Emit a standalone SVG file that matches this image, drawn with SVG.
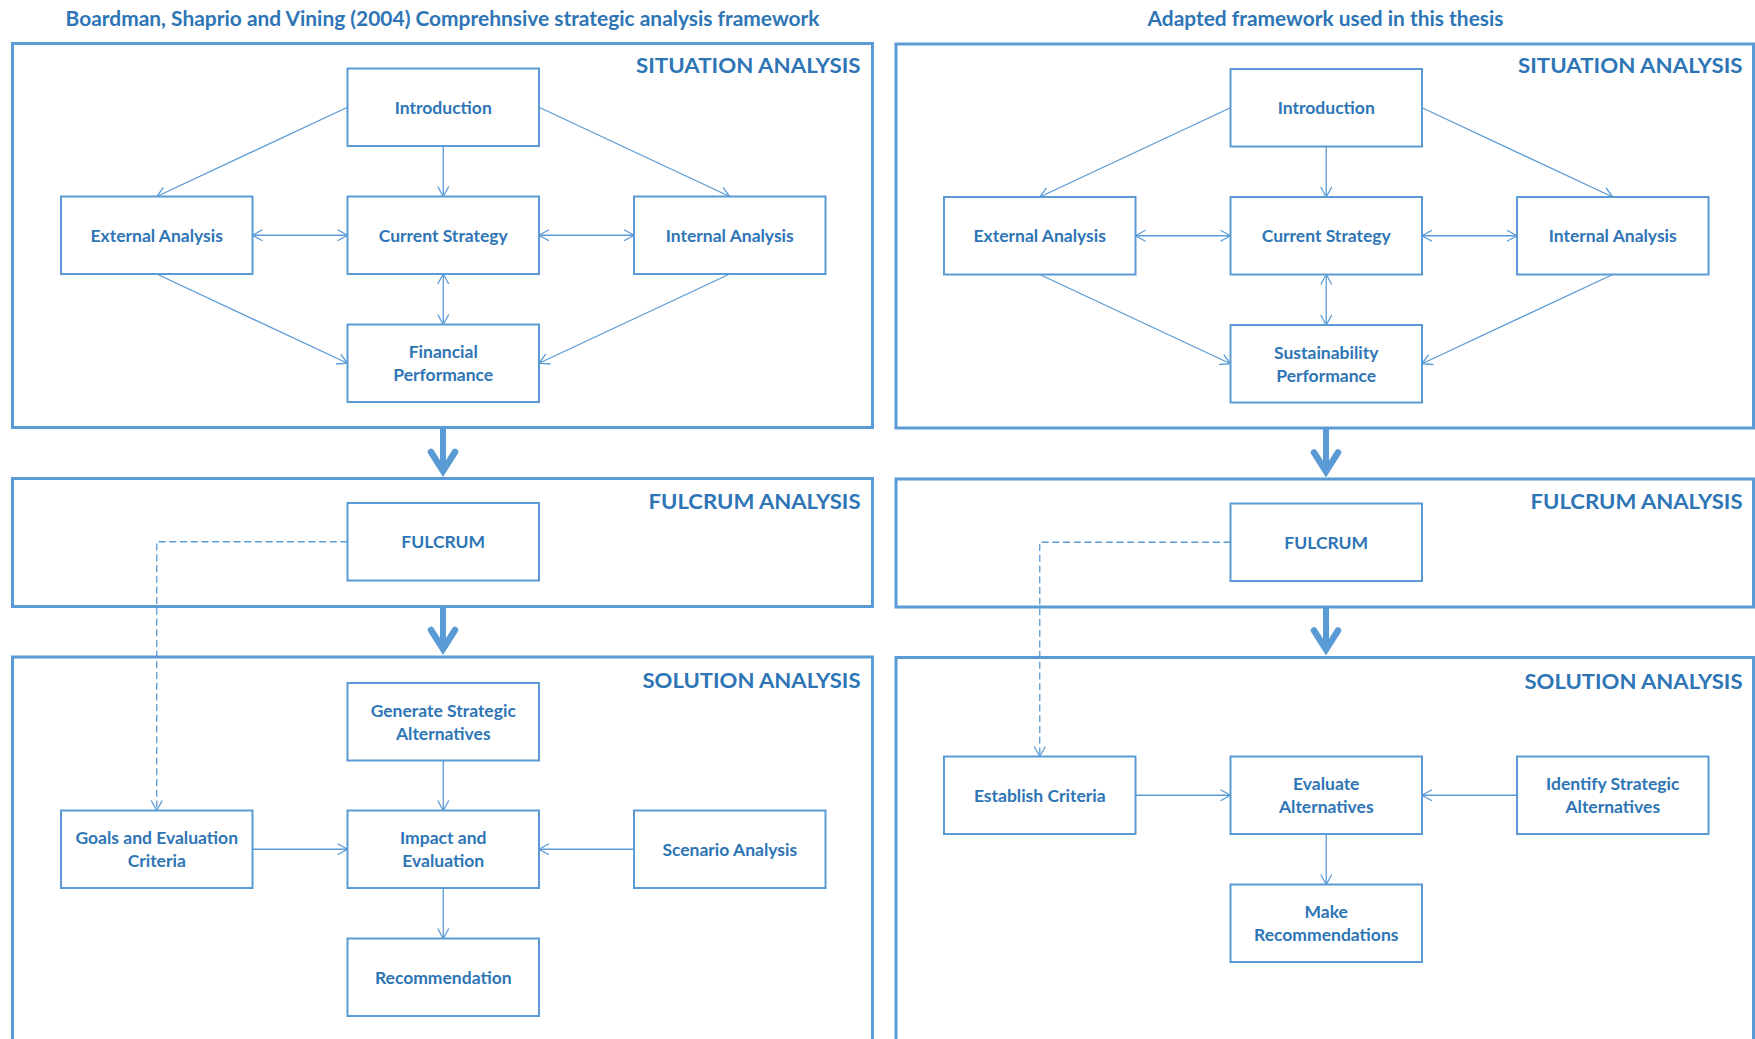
<svg xmlns="http://www.w3.org/2000/svg" width="1755" height="1039" viewBox="0 0 1755 1039">
  <style>
    .frame { fill: none; stroke: #5B9BD5; stroke-width: 3; }
    .node rect { fill: #FFFFFF; stroke: #5B9BD5; stroke-width: 2; }
    .txt { font-family: Lato, "Liberation Sans", sans-serif; font-weight: 700; fill: #2E75B6; }
    .lbl { font-size: 17.5px; text-anchor: middle; }
    .sec { font-size: 21px; text-anchor: end; }
    .title { font-size: 20px; text-anchor: middle; }
    .conn { fill: none; stroke: #5B9BD5; stroke-width: 1.3; }
    .one { marker-end: url(#tip); }
    .two { marker-start: url(#tip); marker-end: url(#tip); }
    .dash { stroke-dasharray: 7 3.7; }
    .flow { fill: none; stroke: #5B9BD5; stroke-width: 6; marker-end: url(#bigTip); }
  </style>
  <defs>
    <marker id="tip" viewBox="-12 -7 14 14" refX="0" refY="0" markerWidth="14" markerHeight="14" markerUnits="userSpaceOnUse" orient="auto-start-reverse">
      <path d="M-10,-5.5 L0,0 L-10,5.5" fill="none" stroke="#5B9BD5" stroke-width="1.3"/>
    </marker>
    <marker id="bigTip" viewBox="-20 -20 40 40" refX="0" refY="0" markerWidth="40" markerHeight="40" markerUnits="userSpaceOnUse" orient="auto">
      <path d="M-13.1,-12 L5.9,0 L-13.1,12" fill="none" stroke="#5B9BD5" stroke-width="6.5" stroke-linecap="round" stroke-linejoin="miter"/>
    </marker>
  </defs>

  <rect width="1755" height="1039" fill="#FFFFFF"/>

  <!-- headings -->
  <text class="txt title" x="442.5" y="25.7" textLength="754" lengthAdjust="spacingAndGlyphs">Boardman, Shaprio and Vining (2004) Comprehnsive strategic analysis framework</text>
  <text class="txt title" x="1325.5" y="25.7" textLength="356" lengthAdjust="spacingAndGlyphs">Adapted framework used in this thesis</text>

  <!-- stage frames, left column -->
  <g id="l-situation">
    <rect class="frame" x="12.5" y="43.5" width="860" height="384"/>
    <text class="txt sec" x="860.5" y="72.8" textLength="224.5" lengthAdjust="spacingAndGlyphs">SITUATION ANALYSIS</text>
  </g>
  <g id="l-fulcrum-stage">
    <rect class="frame" x="12.5" y="478.5" width="860" height="128"/>
    <text class="txt sec" x="860.5" y="508.8" textLength="212" lengthAdjust="spacingAndGlyphs">FULCRUM ANALYSIS</text>
  </g>
  <g id="l-solution">
    <rect class="frame" x="12.5" y="657" width="860" height="400"/>
    <text class="txt sec" x="860.5" y="688.3" textLength="218" lengthAdjust="spacingAndGlyphs">SOLUTION ANALYSIS</text>
  </g>

  <!-- stage frames, right column -->
  <g id="r-situation">
    <rect class="frame" x="896" y="44" width="857.5" height="384"/>
    <text class="txt sec" x="1742.5" y="73.3" textLength="224.5" lengthAdjust="spacingAndGlyphs">SITUATION ANALYSIS</text>
  </g>
  <g id="r-fulcrum-stage">
    <rect class="frame" x="896" y="479" width="857.5" height="128"/>
    <text class="txt sec" x="1742.5" y="509.3" textLength="212" lengthAdjust="spacingAndGlyphs">FULCRUM ANALYSIS</text>
  </g>
  <g id="r-solution">
    <rect class="frame" x="896" y="657.5" width="857.5" height="400"/>
    <text class="txt sec" x="1742.5" y="688.8" textLength="218" lengthAdjust="spacingAndGlyphs">SOLUTION ANALYSIS</text>
  </g>

  <!-- connectors -->
  <g id="connectors">
    <!-- left: situation -->
    <path class="conn one" d="M347.5,107.25 L156.75,196.5"/>
    <path class="conn one" d="M443.25,146 V196.5"/>
    <path class="conn one" d="M539,107.25 L729.75,196.5"/>
    <path class="conn two" d="M252.5,235.25 H347.5"/>
    <path class="conn two" d="M539,235.25 H634"/>
    <path class="conn two" d="M443.25,274 V324.5"/>
    <path class="conn one" d="M156.75,274 L347.5,363.25"/>
    <path class="conn one" d="M729.75,274 L539,363.25"/>
    <!-- left: stage flow -->
    <path class="flow" d="M443,428 V465"/>
    <path class="flow" d="M443,607 V643"/>
    <!-- left: fulcrum to solution -->
    <path class="conn one dash" d="M347.5,541.75 H156.75 V810.5"/>
    <path class="conn one" d="M443.25,760.5 V810.5"/>
    <path class="conn one" d="M252.5,849.25 H347.5"/>
    <path class="conn one" d="M634,849.25 H539"/>
    <path class="conn one" d="M443.25,888 V938.5"/>

    <!-- right: situation -->
    <path class="conn one" d="M1230.5,107.75 L1039.75,197"/>
    <path class="conn one" d="M1326.25,146.5 V197"/>
    <path class="conn one" d="M1422,107.75 L1612.75,197"/>
    <path class="conn two" d="M1135.5,235.75 H1230.5"/>
    <path class="conn two" d="M1422,235.75 H1517"/>
    <path class="conn two" d="M1326.25,274.5 V325"/>
    <path class="conn one" d="M1039.75,274.5 L1230.5,363.75"/>
    <path class="conn one" d="M1612.75,274.5 L1422,363.75"/>
    <!-- right: stage flow -->
    <path class="flow" d="M1326,428.5 V465.5"/>
    <path class="flow" d="M1326,607.5 V643.5"/>
    <!-- right: fulcrum to solution -->
    <path class="conn one dash" d="M1230.5,542.25 H1039.75 V756.5"/>
    <path class="conn one" d="M1135.5,795.25 H1230.5"/>
    <path class="conn one" d="M1517,795.25 H1422"/>
    <path class="conn one" d="M1326.25,834 V884.5"/>
  </g>

  <!-- left column nodes -->
  <g id="l-introduction" class="node">
    <rect x="347.5" y="68.5" width="191.5" height="77.5"/>
    <text class="txt lbl" x="443.25" y="113.5">Introduction</text>
  </g>
  <g id="l-external" class="node">
    <rect x="61" y="196.5" width="191.5" height="77.5"/>
    <text class="txt lbl" x="156.75" y="241.5">External Analysis</text>
  </g>
  <g id="l-current" class="node">
    <rect x="347.5" y="196.5" width="191.5" height="77.5"/>
    <text class="txt lbl" x="443.25" y="241.5">Current Strategy</text>
  </g>
  <g id="l-internal" class="node">
    <rect x="634" y="196.5" width="191.5" height="77.5"/>
    <text class="txt lbl" x="729.75" y="241.5">Internal Analysis</text>
  </g>
  <g id="l-financial" class="node">
    <rect x="347.5" y="324.5" width="191.5" height="77.5"/>
    <text class="txt lbl"><tspan x="443.25" y="358.3">Financial</tspan><tspan x="443.25" y="381">Performance</tspan></text>
  </g>
  <g id="l-fulcrum" class="node">
    <rect x="347.5" y="503" width="191.5" height="77.5"/>
    <text class="txt lbl" x="443.25" y="548">FULCRUM</text>
  </g>
  <g id="l-generate" class="node">
    <rect x="347.5" y="683" width="191.5" height="77.5"/>
    <text class="txt lbl"><tspan x="443.25" y="716.8">Generate Strategic</tspan><tspan x="443.25" y="739.5">Alternatives</tspan></text>
  </g>
  <g id="l-goals" class="node">
    <rect x="61" y="810.5" width="191.5" height="77.5"/>
    <text class="txt lbl"><tspan x="156.75" y="844.3">Goals and Evaluation</tspan><tspan x="156.75" y="867">Criteria</tspan></text>
  </g>
  <g id="l-impact" class="node">
    <rect x="347.5" y="810.5" width="191.5" height="77.5"/>
    <text class="txt lbl"><tspan x="443.25" y="844.3">Impact and</tspan><tspan x="443.25" y="867">Evaluation</tspan></text>
  </g>
  <g id="l-scenario" class="node">
    <rect x="634" y="810.5" width="191.5" height="77.5"/>
    <text class="txt lbl" x="729.75" y="855.5">Scenario Analysis</text>
  </g>
  <g id="l-recommendation" class="node">
    <rect x="347.5" y="938.5" width="191.5" height="77.5"/>
    <text class="txt lbl" x="443.25" y="983.5">Recommendation</text>
  </g>

  <!-- right column nodes -->
  <g id="r-introduction" class="node">
    <rect x="1230.5" y="69" width="191.5" height="77.5"/>
    <text class="txt lbl" x="1326.25" y="114">Introduction</text>
  </g>
  <g id="r-external" class="node">
    <rect x="944" y="197" width="191.5" height="77.5"/>
    <text class="txt lbl" x="1039.75" y="242">External Analysis</text>
  </g>
  <g id="r-current" class="node">
    <rect x="1230.5" y="197" width="191.5" height="77.5"/>
    <text class="txt lbl" x="1326.25" y="242">Current Strategy</text>
  </g>
  <g id="r-internal" class="node">
    <rect x="1517" y="197" width="191.5" height="77.5"/>
    <text class="txt lbl" x="1612.75" y="242">Internal Analysis</text>
  </g>
  <g id="r-sustainability" class="node">
    <rect x="1230.5" y="325" width="191.5" height="77.5"/>
    <text class="txt lbl"><tspan x="1326.25" y="358.8">Sustainability</tspan><tspan x="1326.25" y="381.5">Performance</tspan></text>
  </g>
  <g id="r-fulcrum" class="node">
    <rect x="1230.5" y="503.5" width="191.5" height="77.5"/>
    <text class="txt lbl" x="1326.25" y="548.5">FULCRUM</text>
  </g>
  <g id="r-establish" class="node">
    <rect x="944" y="756.5" width="191.5" height="77.5"/>
    <text class="txt lbl" x="1039.75" y="801.5">Establish Criteria</text>
  </g>
  <g id="r-evaluate" class="node">
    <rect x="1230.5" y="756.5" width="191.5" height="77.5"/>
    <text class="txt lbl"><tspan x="1326.25" y="790.3">Evaluate</tspan><tspan x="1326.25" y="813">Alternatives</tspan></text>
  </g>
  <g id="r-identify" class="node">
    <rect x="1517" y="756.5" width="191.5" height="77.5"/>
    <text class="txt lbl"><tspan x="1612.75" y="790.3">Identify Strategic</tspan><tspan x="1612.75" y="813">Alternatives</tspan></text>
  </g>
  <g id="r-recommend" class="node">
    <rect x="1230.5" y="884.5" width="191.5" height="77.5"/>
    <text class="txt lbl"><tspan x="1326.25" y="918.3">Make</tspan><tspan x="1326.25" y="941">Recommendations</tspan></text>
  </g>
</svg>
